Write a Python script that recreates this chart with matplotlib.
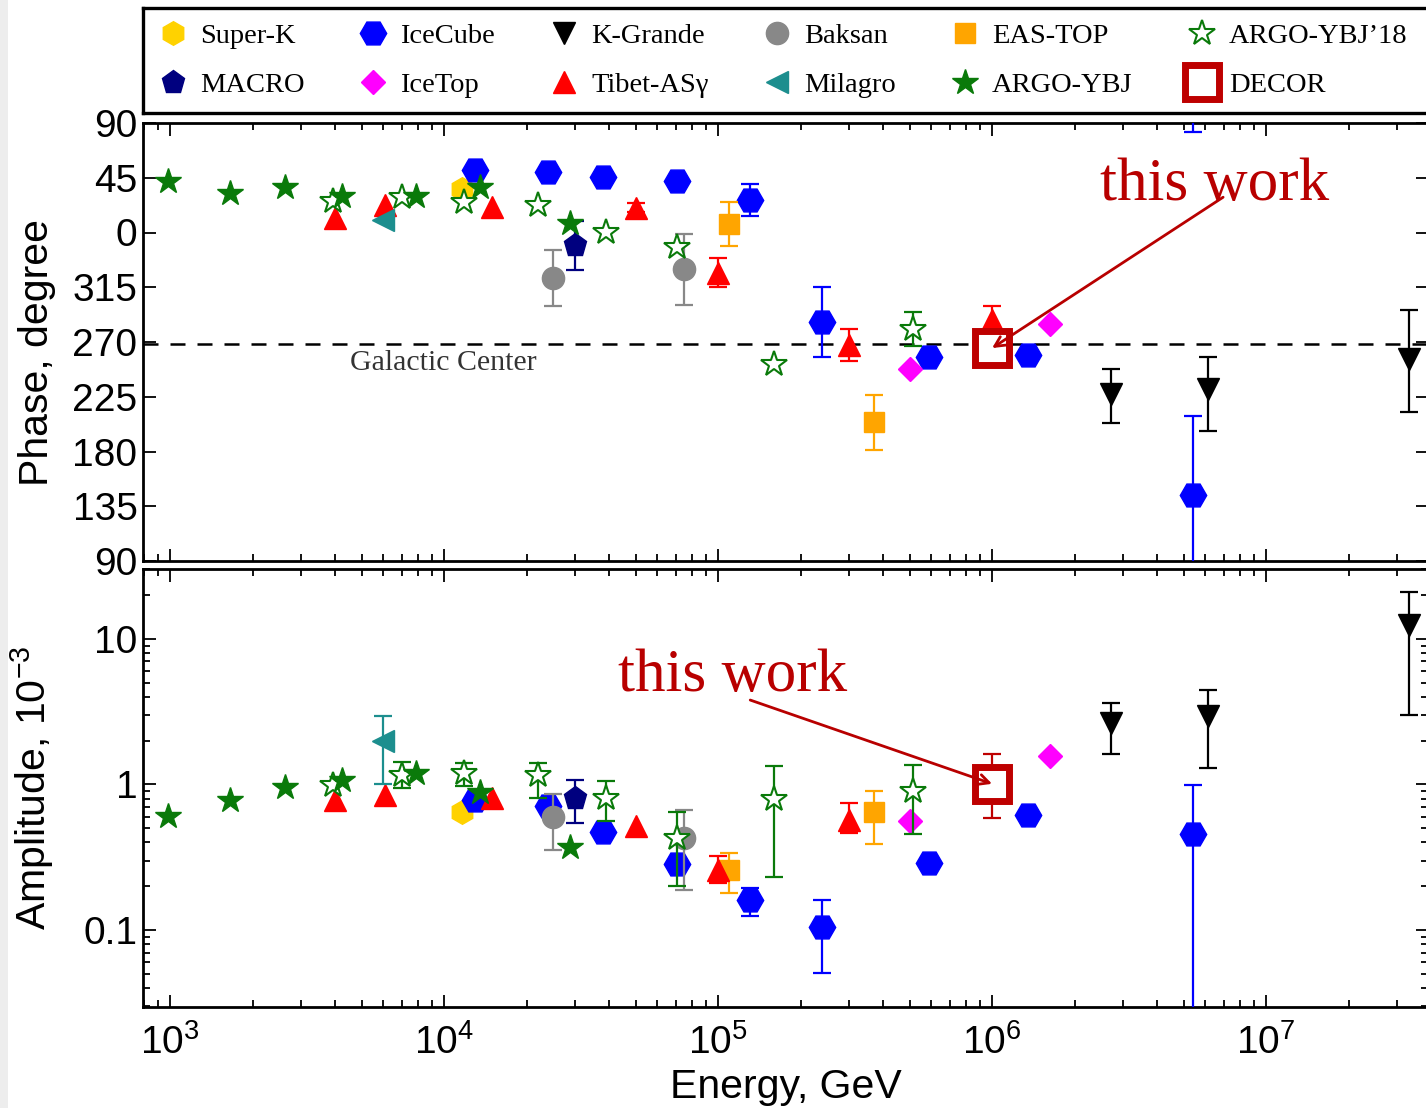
import matplotlib
matplotlib.use("Agg")
import matplotlib.pyplot as plt
import numpy as np
from matplotlib.patches import Rectangle
from matplotlib.ticker import FixedLocator, FuncFormatter, LogLocator, NullFormatter

plt.rcParams["font.family"] = ["Liberation Sans", "DejaVu Sans"]
plt.rcParams["mathtext.default"] = "regular"
SERIF = ["Liberation Serif", "DejaVu Serif"]

# energies in GeV, phases in degrees (0..360), amplitudes in units of 1e-3
superk_e = [1.16e4]
superk_ph = [36]
superk_amp = [0.65]

macro_e = [3.0e4]
macro_ph = [349.5]
macro_ph_err = [20]
macro_amp = [0.81]
macro_amp_lo = [0.265]
macro_amp_hi = [0.27]

icecube_e = [1.3e4, 2.4e4, 3.8e4, 7.1e4, 1.31e5, 2.4e5, 5.9e5, 1.35e6, 5.4e6]
icecube_ph = [51, 49.5, 46, 42, 26.6, 286.5, 257.6, 259.6, 144.2]
icecube_ph_lo = [0, 0, 0, 0, 13, 29, 3, 3, 62]
icecube_ph_hi = [0, 0, 0, 0, 13, 29, 3, 3, 65]
icecube_amp = [0.78, 0.71, 0.47, 0.284, 0.162, 0.105, 0.287, 0.615, 0.454]
icecube_amp_lo = [0, 0, 0, 0.03, 0.037, 0.054, 0.02, 0.04, 0.44]
icecube_amp_hi = [0, 0, 0, 0.03, 0.031, 0.056, 0.02, 0.04, 0.53]

icetop_e = [5.0e5, 1.63e6]
icetop_ph = [248, 285]
icetop_amp = [0.557, 1.56]

kgrande_e = [2.72e6, 6.14e6, 3.32e7]
kgrande_ph = [227.4, 231.6, 256.3]
kgrande_ph_lo = [24, 35, 43.5]
kgrande_ph_hi = [20, 26, 40]
kgrande_amp = [2.66, 2.97, 12.5]
kgrande_amp_lo = [1.04, 1.67, 9.5]
kgrande_amp_hi = [0.94, 1.52, 8.6]

tibet_e = [4.0e3, 6.1e3, 1.5e4, 5.0e4, 1.0e5, 3.0e5, 1.0e6]
tibet_ph = [12, 23, 21, 20.5, 327, 267.3, 288]
tibet_ph_err = [0, 0, 0, 4, 12, 13, 11.5]
tibet_amp = [0.78, 0.85, 0.81, 0.515, 0.26, 0.566, 1.0]
tibet_amp_lo = [0, 0, 0, 0, 0.05, 0.105, 0]
tibet_amp_hi = [0, 0, 0, 0, 0.065, 0.18, 0]

baksan_e = [2.5e4, 7.5e4]
baksan_ph = [322.3, 329.7]
baksan_ph_err = [23, 29]
baksan_amp = [0.60, 0.43]
baksan_amp_lo = [0.246, 0.243]
baksan_amp_hi = [0.26, 0.24]

milagro_e = [6.0e3]
milagro_ph = [10]
milagro_amp = [2.0]
milagro_amp_lo = [1.0]
milagro_amp_hi = [0.97]

eastop_e = [1.1e5, 3.7e5]
eastop_ph = [6.8, 204]
eastop_ph_err = [18, 22.5]
eastop_amp = [0.26, 0.643]
eastop_amp_err = [0.079, 0.252]

argo_e = [980, 1650, 2630, 4250, 7900, 1.35e4, 2.88e4]
argo_ph = [42.5, 32.3, 37.2, 30.4, 29.9, 37.3, 7.6]
argo_amp = [0.605, 0.776, 0.968, 1.07, 1.19, 0.89, 0.374]

argo18_e = [3.94e3, 7.0e3, 1.18e4, 2.2e4, 3.9e4, 7.1e4, 1.6e5, 5.15e5]
argo18_ph = [26, 29, 25, 22.5, 0.2, 348, 252, 281]
argo18_ph_err = [0, 0, 0, 0, 0, 0, 0, 14]
argo18_amp = [0.99, 1.16, 1.19, 1.16, 0.81, 0.43, 0.79, 0.905]
argo18_amp_lo = [0, 0.22, 0.22, 0.35, 0.25, 0.23, 0.56, 0.45]
argo18_amp_hi = [0, 0.27, 0.22, 0.25, 0.25, 0.22, 0.54, 0.46]

decor_e = [1.0e6]
decor_ph = [265]
decor_amp = [1.01]
decor_amp_lo = [0.42]
decor_amp_hi = [0.61]

galactic_center = 268

legend_order = ["Super-K", "MACRO", "IceCube", "IceTop", "K-Grande", "Tibet-ASγ",
                "Baksan", "Milagro", "EAS-TOP", "ARGO-YBJ", "ARGO-YBJ’18", "DECOR"]

series = [
    dict(label="Super-K", e=superk_e, ph=superk_ph, amp=superk_amp,
         marker="h", color="#FFD200", ms=17),
    dict(label="IceCube", e=icecube_e, ph=icecube_ph, ph_lo=icecube_ph_lo, ph_hi=icecube_ph_hi,
         amp=icecube_amp, amp_lo=icecube_amp_lo, amp_hi=icecube_amp_hi,
         marker="H", color="#0000FF", ms=19),
    dict(label="Baksan", e=baksan_e, ph=baksan_ph, ph_lo=baksan_ph_err, ph_hi=baksan_ph_err,
         amp=baksan_amp, amp_lo=baksan_amp_lo, amp_hi=baksan_amp_hi,
         marker="o", color="#888888", ms=16),
    dict(label="MACRO", e=macro_e, ph=macro_ph, ph_lo=macro_ph_err, ph_hi=macro_ph_err,
         amp=macro_amp, amp_lo=macro_amp_lo, amp_hi=macro_amp_hi,
         marker="p", color="#00007F", ms=17),
    dict(label="IceTop", e=icetop_e, ph=icetop_ph, amp=icetop_amp,
         marker="D", color="#FF00FF", ms=12.5),
    dict(label="EAS-TOP", e=eastop_e, ph=eastop_ph, ph_lo=eastop_ph_err, ph_hi=eastop_ph_err,
         amp=eastop_amp, amp_lo=eastop_amp_err, amp_hi=eastop_amp_err,
         marker="s", color="#FFA500", ms=14.5),
    dict(label="Tibet-ASγ", e=tibet_e, ph=tibet_ph, ph_lo=tibet_ph_err, ph_hi=tibet_ph_err,
         amp=tibet_amp, amp_lo=tibet_amp_lo, amp_hi=tibet_amp_hi,
         marker="^", color="#FF0000", ms=16),
    dict(label="Milagro", e=milagro_e, ph=milagro_ph,
         amp=milagro_amp, amp_lo=milagro_amp_lo, amp_hi=milagro_amp_hi,
         marker="<", color="#1C8E8E", ms=16),
    dict(label="K-Grande", e=kgrande_e, ph=kgrande_ph, ph_lo=kgrande_ph_lo, ph_hi=kgrande_ph_hi,
         amp=kgrande_amp, amp_lo=kgrande_amp_lo, amp_hi=kgrande_amp_hi,
         marker="v", color="#000000", ms=16),
    dict(label="ARGO-YBJ’18", e=argo18_e, ph=argo18_ph, ph_lo=argo18_ph_err, ph_hi=argo18_ph_err,
         amp=argo18_amp, amp_lo=argo18_amp_lo, amp_hi=argo18_amp_hi,
         marker="*", color="#0A7A0A", face="white", mew=1.5, ms=19),
    dict(label="ARGO-YBJ", e=argo_e, ph=argo_ph, amp=argo_amp,
         marker="*", color="#0A7A0A", ms=19),
    dict(label="DECOR", e=decor_e, ph=decor_ph,
         amp=decor_amp, amp_lo=decor_amp_lo, amp_hi=decor_amp_hi,
         marker="s", color="#BE0000", face="white", mew=5, ms=24),
]


def to_axis(phase):
    # phases above 90 deg go one turn down so the axis reads 90, 45, 0, 315 ... 90
    phase = np.asarray(phase, dtype=float)
    return np.where(phase > 90, phase - 360, phase)


def draw(ax_ph, ax_amp, s, z):
    e = np.asarray(s["e"], float)
    zeros = np.zeros(len(e))
    ph = to_axis(s["ph"])
    ph_lo = np.asarray(s.get("ph_lo", zeros), float)
    ph_hi = np.asarray(s.get("ph_hi", zeros), float)
    amp = np.asarray(s["amp"], float)
    amp_lo = np.asarray(s.get("amp_lo", zeros), float)
    amp_hi = np.asarray(s.get("amp_hi", zeros), float)

    style = dict(ls="none", marker=s["marker"], ms=s["ms"], mfc=s.get("face", s["color"]),
                 mec=s["color"], mew=s.get("mew", 1), zorder=z)
    bars = dict(fmt="none", ecolor=s["color"], elinewidth=1.6, capsize=6.5,
                capthick=1.6, zorder=z - 0.5)

    m = (ph_lo + ph_hi) > 0
    if m.any():
        # the phase is periodic: a bar running off the bottom comes back in at the top
        for shift in (0, 360):
            ax_ph.errorbar(e[m], ph[m] + shift, yerr=[ph_lo[m], ph_hi[m]], **bars)
    ax_ph.plot(e, ph, label=s["label"], **style)

    m = (amp_lo + amp_hi) > 0
    if m.any():
        ax_amp.errorbar(e[m], amp[m], yerr=[amp_lo[m], amp_hi[m]], **bars)
    ax_amp.plot(e, amp, **style)


W, H = 1426, 1108
fig = plt.figure(figsize=(W / 100, H / 100), dpi=100)
fig.add_artist(Rectangle((0, 0), 8 / W, 1, transform=fig.transFigure,
                         color="#EDEDED", lw=0, zorder=-5))

left = 143 / W
width = (1428 - 143) / W
ax_leg = fig.add_axes([left, 1 - 113 / H, width, 105 / H])
ax_ph = fig.add_axes([left, 1 - 561 / H, width, 438 / H])
ax_amp = fig.add_axes([left, 1 - 1007 / H, width, 438 / H], sharex=ax_ph)

for i, s in enumerate(series):
    draw(ax_ph, ax_amp, s, 3 + i)

# galactic center direction
ax_ph.axhline(to_axis(galactic_center), color="k", lw=1.8, ls=(0, (6, 4.8)), zorder=1)
ax_ph.text(4.55e3, -107, "Galactic Center", family=SERIF, size=21.5, color="#333333", va="center")

red = "#B80000"
ax_ph.text(10 ** 6.394, 26.7, "this work", family=SERIF, size=44, color=red, va="baseline")
ax_ph.annotate("", xy=(decor_e[0], to_axis(decor_ph)[0]), xytext=(6.97e6, 29),
               arrowprops=dict(arrowstyle="->", color=red, lw=2, shrinkA=0, shrinkB=0,
                               mutation_scale=18), zorder=20)
ax_amp.text(4.315e4, 4.39, "this work", family=SERIF, size=44, color=red, va="baseline")
ax_amp.annotate("", xy=(decor_e[0], decor_amp[0]), xytext=(1.31e5, 3.8),
                arrowprops=dict(arrowstyle="->", color=red, lw=2, shrinkA=0, shrinkB=0,
                                mutation_scale=18), zorder=20)

ax_ph.set_xscale("log")
ax_ph.set_xlim(10 ** 2.901, 10 ** 7.591)
ax_ph.set_ylim(-270, 90)
ax_ph.yaxis.set_major_locator(FixedLocator(np.arange(-270, 91, 45)))
ax_ph.yaxis.set_major_formatter(FuncFormatter(lambda v, p: f"{int(round(v)) % 360}"))
ax_ph.set_ylabel("Phase, degree", size=29.5)
ax_ph.yaxis.set_label_coords(-0.068, 0.477)
ax_ph.tick_params(axis="x", which="both", labelbottom=False)

ax_amp.set_yscale("log")
ax_amp.set_ylim(0.0296, 30.2)
ax_amp.set_yticks([0.1, 1, 10], ["0.1", "1", "10"])
ax_amp.yaxis.set_minor_locator(LogLocator(subs=np.arange(2, 10)))
ax_amp.yaxis.set_minor_formatter(NullFormatter())
ax_amp.set_ylabel("Amplitude, 10$^{-3}$", size=29.5)
ax_amp.yaxis.set_label_coords(-0.068, 0.5)
ax_amp.set_xlabel("Energy, GeV", size=29.5, labelpad=5)

for ax in (ax_ph, ax_amp):
    ax.tick_params(which="both", direction="in", top=True, right=True, width=1.3,
                   labelsize=28, pad=4)
    ax.tick_params(which="major", length=9)
    ax.tick_params(which="minor", length=5)
    for sp in ax.spines.values():
        sp.set_linewidth(2)
ax_amp.tick_params(axis="x", which="major", pad=12)

ax_leg.set_xticks([])
ax_leg.set_yticks([])
for sp in ax_leg.spines.values():
    sp.set_linewidth(2.4)

handles = dict(zip(*ax_ph.get_legend_handles_labels()[::-1]))
ax_leg.legend([handles[k] for k in legend_order], legend_order, ncol=6, loc="center left",
              frameon=False, prop={"family": SERIF, "size": 20.5}, numpoints=1,
              handlelength=1.0, handletextpad=0.45, columnspacing=1.92,
              labelspacing=0.8, borderaxespad=0.25, borderpad=0.3)

fig.savefig("out.png", dpi=100)
